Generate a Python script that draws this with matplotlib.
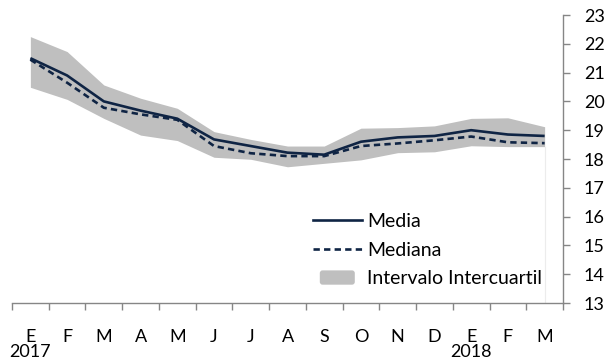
import matplotlib
matplotlib.use("Agg")
import matplotlib.pyplot as plt
import matplotlib.transforms as mtransforms
from matplotlib.patches import Patch, FancyBboxPatch
from matplotlib.lines import Line2D
from matplotlib.legend_handler import HandlerPatch

plt.rcParams['font.family'] = ['Lato', 'DejaVu Sans']

# data
months = ['E', 'F', 'M', 'A', 'M', 'J', 'J', 'A', 'S', 'O', 'N', 'D', 'E', 'F', 'M']
years = {0: '2017', 12: '2018'}
media = [21.5, 20.9, 20.0, 19.68, 19.4, 18.68, 18.45, 18.22, 18.15, 18.6, 18.75, 18.8, 19.0, 18.85, 18.8]
mediana = [21.45, 20.65, 19.78, 19.55, 19.36, 18.45, 18.2, 18.1, 18.1, 18.45, 18.54, 18.65, 18.78, 18.58, 18.55]
q_high = [22.25, 21.73, 20.57, 20.11, 19.76, 18.95, 18.68, 18.45, 18.45, 19.07, 19.09, 19.15, 19.41, 19.43, 19.12]
q_low = [20.49, 20.07, 19.41, 18.83, 18.64, 18.06, 17.99, 17.73, 17.85, 17.97, 18.22, 18.25, 18.46, 18.43, 18.43]

navy = '#0f2444'
band = '#bfbfbf'
axis_col = '#868686'
fs = 13
fs_leg = 14


def small_box(legend, orig_handle, xdescent, ydescent, width, height, fontsize):
    # Excel draws a shorter, rounded swatch for the area series
    w = width * 0.72
    h = height * 1.05
    return FancyBboxPatch((-xdescent + (width - w) / 2, -ydescent + (height - h) / 2), w, h,
                          boxstyle='round,pad=0,rounding_size=2')


fig = plt.figure(figsize=(6.07, 3.64), dpi=100)
ax = fig.add_axes([12 / 607, 1 - 303 / 364, 551 / 607, 288 / 364])

x = list(range(len(months)))
ax.fill_between(x, q_low, q_high, color=band, linewidth=0, zorder=1)
# faint edge of the area series at the last point
ax.plot([x[-1], x[-1]], [13, q_low[-1]], color='#ececec', linewidth=0.8, zorder=0)
ax.plot(x, media, color=navy, linewidth=1.9, zorder=3, solid_capstyle='butt')
ax.plot(x, mediana, color=navy, linewidth=1.9, dashes=(2.4, 1.6), zorder=3)

ax.set_xlim(-0.5, len(months) - 0.5)
ax.set_ylim(13, 23)

for s in ['left', 'top']:
    ax.spines[s].set_visible(False)
for s in ['right', 'bottom']:
    ax.spines[s].set_color(axis_col)
    ax.spines[s].set_linewidth(1.0)

ax.yaxis.tick_right()
ax.set_yticks(range(13, 24))
ax.tick_params(axis='y', direction='out', length=5, width=1.0, color=axis_col,
               pad=10, labelsize=fs, labelcolor='black')

ax.set_xticks([i - 0.5 for i in range(len(months) + 1)])
ax.set_xticklabels([])
ax.set_xticks(x, minor=True)
ax.set_xticklabels(months, minor=True)
ax.tick_params(axis='x', which='major', direction='out', length=5, width=1.0, color=axis_col)
ax.tick_params(axis='x', which='minor', length=0, pad=19, labelsize=fs, labelcolor='black')

trans = mtransforms.blended_transform_factory(ax.transData, ax.transAxes)
for i, yr in years.items():
    ax.text(i, -0.17, yr, transform=trans, ha='center', va='center', fontsize=fs)

handles = [
    Line2D([], [], color=navy, linewidth=1.9),
    Line2D([], [], color=navy, linewidth=1.9, dashes=(2.4, 1.6)),
    Patch(facecolor=band, edgecolor='none'),
]
fig.legend(handles, ['Media', 'Mediana', 'Intervalo Intercuartil'],
           loc='upper left', bbox_to_anchor=(313 / 607, 1 - 213 / 364),
           frameon=False, fontsize=fs_leg, handlelength=2.5, handletextpad=0.3,
           labelspacing=0.6, borderpad=0, borderaxespad=0,
           handler_map={Patch: HandlerPatch(patch_func=small_box)})

fig.savefig('out.png', dpi=100)
